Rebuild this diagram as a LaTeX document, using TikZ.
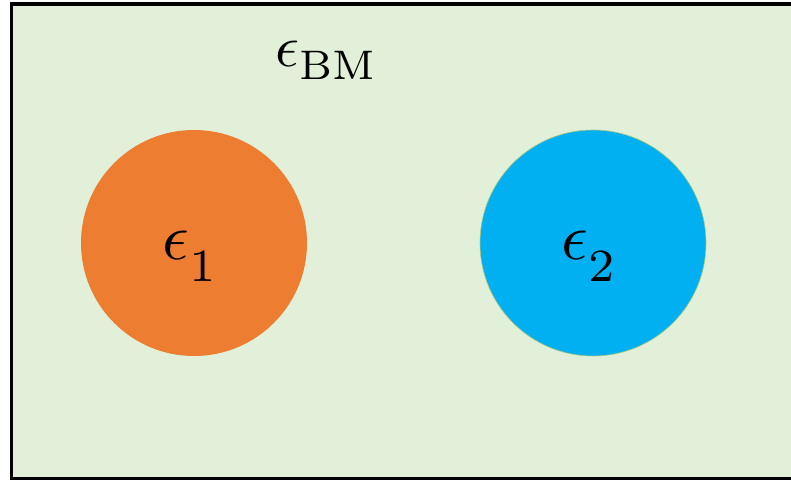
\documentclass[tikz,border=0pt]{standalone}
\definecolor{panelgreen}{HTML}{E2EFD9}
\definecolor{regionorange}{HTML}{ED7D31}
\definecolor{regionblue}{HTML}{00B0F0}
\definecolor{rimgreen}{HTML}{A9C77A}
\newcommand{\lowsub}[2]{_{\raisebox{#1}{$\scriptstyle #2$}}}
\tikzset{
  panel/.style={draw=black, line width=3.5pt, fill=panelgreen},
  inclusion/.style={circle, minimum size=226pt, inner sep=0pt},
  biglabel/.style={inner sep=0pt, anchor=base west, scale=6.6},
  hostlabel/.style={inner sep=0pt, anchor=base west, scale=5.9}
}
\begin{document}
\begin{tikzpicture}[x=1pt,y=1pt]
  \useasboundingbox (0,0) rectangle (791,481);
  \fill[white] (0,0) rectangle (791,481);
  % host medium
  \draw[panel] (11.5,2.5) rectangle (805,477);
  \node[hostlabel] (host) at (274,414) {$\epsilon\lowsub{-0.6pt}{\mathrm{BM}}$};
  % the two inclusions
  \node[inclusion, fill=regionorange] (c1) at (194,238) {};
  \node[inclusion, fill=regionblue, draw=rimgreen, line width=0.6pt] (c2) at (593,238) {};
  \node[biglabel] (l1) at (161,221) {$\epsilon\lowsub{-1.8pt}{1}$};
  \node[biglabel] (l2) at (560,221) {$\epsilon\lowsub{-1.8pt}{2}$};
\end{tikzpicture}
\end{document}
